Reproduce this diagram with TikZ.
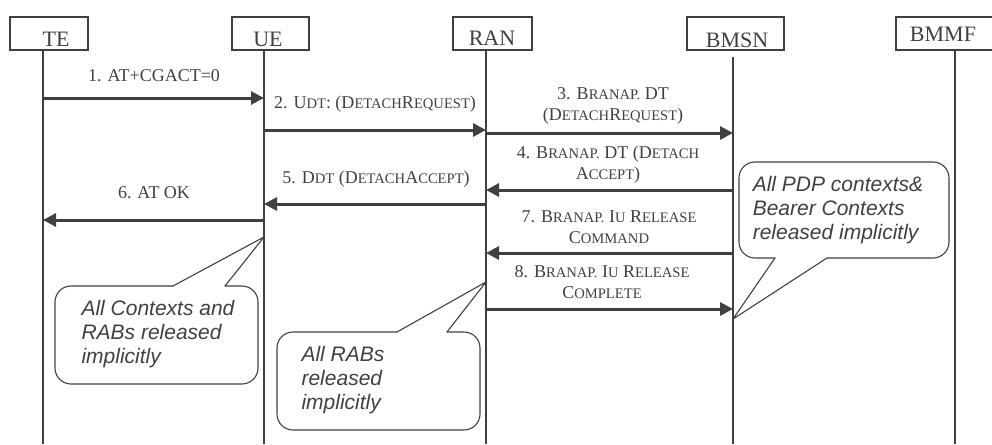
\documentclass[tikz,border=0pt]{standalone}
\usepackage{fontspec}
\setmainfont{Liberation Serif}
\newfontfamily\callfont{Liberation Sans}
\usetikzlibrary{arrows.meta}
\definecolor{ink}{RGB}{64,64,64}
\newcommand\smc[1]{{\fontsize{14.6}{14.6}\selectfont #1}}
\begin{document}
\begin{tikzpicture}[x=1pt,y=-1pt,
  hdrbox/.style={draw=ink, line width=1.1pt, minimum height=33pt, inner sep=0pt},
  hdrtext/.style={text=ink, font=\fontsize{22}{22}\selectfont, inner sep=0pt},
  life/.style={draw=ink, line width=1.1pt},
  msg/.style={draw=ink, line width=3pt, -{Triangle[length=13pt,width=13pt]}},
  lbl/.style={text=ink, font=\fontsize{18}{21}\selectfont, align=center, inner sep=0pt},
  callline/.style={draw=ink, line width=1.1pt, line join=round, line cap=round},
  calltext/.style={text=ink, font=\callfont\itshape\fontsize{21}{24}\selectfont, align=left, inner sep=0pt}]
\useasboundingbox (0,0) rectangle (992,444);

% headers
\node[hdrbox, minimum width=78pt] (teBox) at (49,33.5) {};
\node[hdrtext] (teTxt) at (56,39) {TE};
\node[hdrbox, minimum width=77pt] (ueBox) at (270.5,33.5) {};
\node[hdrtext] (ueTxt) at (268,39) {UE};
\node[hdrbox, minimum width=79pt] (ranBox) at (492.5,33.5) {};
\node[hdrtext] (ranTxt) at (492,38) {RAN};
\node[hdrbox, minimum width=97pt] (bmsnBox) at (735.5,33.5) {};
\node[hdrtext] (bmsnTxt) at (737,40) {BMSN};
\node[hdrbox, minimum width=114pt] (bmmfBox) at (953,33.5) {};
\node[hdrtext] (bmmfTxt) at (943,34) {BMMF};

% lifelines
\coordinate (teL) at (43,50);    \coordinate (teE) at (43,444);
\coordinate (ueL) at (264,50);   \coordinate (ueE) at (264,444);
\coordinate (ranL) at (486,50);  \coordinate (ranE) at (486,444);
\coordinate (bmsnL) at (733,57); \coordinate (bmsnE) at (733,444);
\coordinate (bmmfL) at (955,50); \coordinate (bmmfE) at (955,444);
\draw[life] (teL) -- (teE);
\draw[life] (ueL) -- (ueE);
\draw[life] (ranL) -- (ranE);
\draw[life] (bmsnL) -- (bmsnE);
\draw[life] (bmmfL) -- (bmmfE);

% messages
\draw[msg] (teL |- 0,98) -- (ueL |- 0,98);
\draw[msg] (ueL |- 0,130) -- (ranL |- 0,130);
\draw[msg] (ranL |- 0,133) -- (bmsnL |- 0,133);
\draw[msg] (bmsnL |- 0,190) -- (ranL |- 0,190);
\draw[msg] (ranL |- 0,204) -- (ueL |- 0,204);
\draw[msg] (ueL |- 0,220) -- (teL |- 0,220);
\draw[msg] (bmsnL |- 0,253) -- (ranL |- 0,253);
\draw[msg] (ranL |- 0,309) -- (bmsnL |- 0,309);

% labels
\node[lbl] (l1) at (154,76) {1. AT+CGACT=0};
\node[lbl] (l2) at (375,104) {2. U\smc{DT}: (D\smc{ETACH}R\smc{EQUEST})};
\node[lbl] (l3) at (613,106) {3. B\smc{RANAP.} DT\\(D\smc{ETACH}R\smc{EQUEST})};
\node[lbl] (l4) at (608,165) {4. B\smc{RANAP.} DT (D\smc{ETACH}\\A\smc{CCEPT})};
\node[lbl] (l5) at (376,179) {5. D\smc{DT} (D\smc{ETACH}A\smc{CCEPT})};
\node[lbl] (l6) at (154,193) {6. AT OK};
\node[lbl] (l7) at (609,227) {7. B\smc{RANAP.} I\smc{U} R\smc{ELEASE}\\C\smc{OMMAND}};
\node[lbl] (l8) at (602,282) {8. B\smc{RANAP.} I\smc{U} R\smc{ELEASE}\\C\smc{OMPLETE}};

% callout A
\draw[callline] (173,286) -- (ueL |- 0,237) -- (225,286);
\draw[callline, rounded corners=16pt] (225,286) -- (258,286) -- (258,384) -- (55,384) -- (55,286) -- (173,286);
\node[calltext] (cA) at (158,334) {All Contexts and\\RABs released\\implicitly};

% callout B
\draw[callline] (397,332) -- (ranL |- 0,282) -- (447,332);
\draw[callline, rounded corners=16pt] (447,332) -- (480,332) -- (480,430) -- (277,430) -- (277,332) -- (397,332);
\node[calltext] (cB) at (343,380) {All RABs\\released\\implicitly};

% callout C
\draw[callline] (775,258) -- (bmsnL |- 0,319) -- (827,258);
\draw[callline, rounded corners=16pt] (827,258) -- (949,258) -- (949,162) -- (739,162) -- (739,258) -- (775,258);
\node[calltext] (cC) at (838,210) {All PDP contexts\&\\Bearer Contexts\\released implicitly};
\end{tikzpicture}
\end{document}
